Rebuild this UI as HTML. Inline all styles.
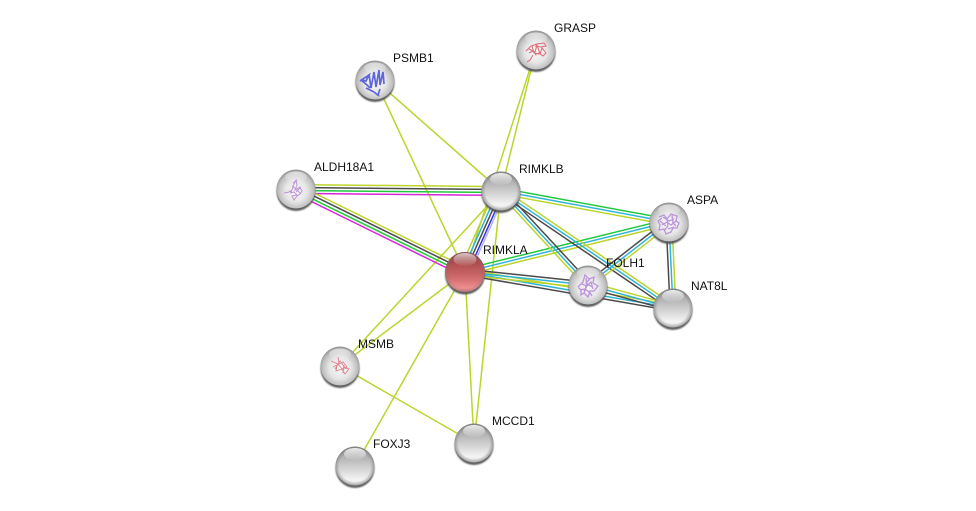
<!DOCTYPE html>
<html>
<head>
<meta charset="utf-8">
<style>
html,body{margin:0;padding:0;background:#fff;width:976px;height:511px;overflow:hidden}
svg{display:block}
text{font-family:"Liberation Sans",sans-serif;font-size:12px;fill:#111}
.y{stroke:#bcd42c}.c{stroke:#2fb4d8}.d{stroke:#4a4a4a}.g{stroke:#22c83c}.m{stroke:#d824d8}.b{stroke:#3232e0}.l{stroke:#b4b4f0}
line{stroke-width:1.5}
</style>
</head>
<body>
<svg width="976" height="511" viewBox="0 0 976 511" xmlns="http://www.w3.org/2000/svg">
<defs>
<linearGradient id="blank" x1="0" y1="0" x2="0" y2="1">
<stop offset="0" stop-color="#8c8c8c"/>
<stop offset=".25" stop-color="#b0b0b0"/>
<stop offset=".55" stop-color="#d2d2d2"/>
<stop offset=".85" stop-color="#f4f4f4"/>
<stop offset="1" stop-color="#e4e4e4"/>
</linearGradient>
<radialGradient id="img" cx=".5" cy=".55" r=".56">
<stop offset="0" stop-color="#f8f8f8"/>
<stop offset=".5" stop-color="#e6e6e6"/>
<stop offset=".8" stop-color="#c0c0c0"/>
<stop offset="1" stop-color="#8a8a8a"/>
</radialGradient>
<radialGradient id="rim" cx=".5" cy=".5" r=".5">
<stop offset=".8" stop-color="#777" stop-opacity="0"/>
<stop offset="1" stop-color="#777" stop-opacity=".6"/>
</radialGradient>
<linearGradient id="red" x1="0" y1="0" x2="0" y2="1">
<stop offset="0" stop-color="#8a3a3c"/>
<stop offset=".3" stop-color="#b04e50"/>
<stop offset=".65" stop-color="#d06c6e"/>
<stop offset=".9" stop-color="#f08e90"/>
<stop offset="1" stop-color="#d87a7c"/>
</linearGradient>
<linearGradient id="hi" x1="0" y1="0" x2="0" y2="1">
<stop offset="0" stop-color="#fff" stop-opacity=".85"/>
<stop offset="1" stop-color="#fff" stop-opacity=".05"/>
</linearGradient>
<filter id="blur" x="-30%" y="-30%" width="160%" height="160%"><feGaussianBlur stdDeviation=".9"/></filter>
<filter id="soft" x="-20%" y="-20%" width="140%" height="140%"><feGaussianBlur stdDeviation=".35"/></filter>
<g id="ball">
<circle cx="0" cy="2.5" r="19.5" fill="#4e4e4e" opacity=".9" filter="url(#blur)"/>
<circle r="19.5" fill="url(#blank)"/>
<circle r="19.5" fill="url(#rim)"/>
<ellipse cx="0" cy="-12" rx="11" ry="6" fill="url(#hi)"/>
</g>
<g id="iball">
<circle cx="0" cy="2.5" r="19.5" fill="#4e4e4e" opacity=".9" filter="url(#blur)"/>
<circle r="19.5" fill="url(#img)"/>
<ellipse cx="0" cy="-12" rx="11" ry="5.5" fill="url(#hi)" opacity=".65"/>
</g>
<g id="rball">
<circle cx="0" cy="2.5" r="20" fill="#4e4e4e" opacity=".9" filter="url(#blur)"/>
<circle r="20" fill="url(#red)"/>
<circle r="20" fill="url(#rim)" opacity=".6"/>
<ellipse cx="0" cy="-12.5" rx="11.5" ry="6.5" fill="url(#hi)" opacity=".8"/>
</g>
</defs>

<rect width="976" height="511" fill="#fff"/>

<!-- single-evidence edges -->
<line class="y" x1="536" y1="50" x2="501" y2="191"/>
<line class="y" x1="536" y1="50" x2="465" y2="272"/>
<line class="y" x1="375" y1="80" x2="501" y2="191"/>
<line class="y" x1="375" y1="80" x2="465" y2="272"/>
<line class="y" x1="501" y1="191" x2="340" y2="366"/>
<line class="y" x1="465" y1="272" x2="340" y2="366"/>
<line class="y" x1="465" y1="272" x2="355" y2="466"/>
<line class="y" x1="465" y1="272" x2="474" y2="443"/>
<line class="y" x1="501" y1="191" x2="474" y2="443"/>
<line class="y" x1="340" y1="366" x2="474" y2="443"/>

<!-- ALDH18A1 - RIMKLB -->
<line class="y" x1="296" y1="184.6" x2="501" y2="186.6"/>
<line class="d" x1="296" y1="187.5" x2="501" y2="189.5"/>
<line class="g" x1="296" y1="190.5" x2="501" y2="192.5"/>
<line class="m" x1="296" y1="193.4" x2="501" y2="195.4"/>
<!-- ALDH18A1 - RIMKLA -->
<line class="y" x1="297.9" y1="185" x2="466.9" y2="268"/>
<line class="d" x1="296.7" y1="187.6" x2="465.7" y2="270.6"/>
<line class="g" x1="295.3" y1="190.4" x2="464.3" y2="273.4"/>
<line class="m" x1="294.1" y1="193" x2="463.1" y2="276"/>
<!-- RIMKLB - RIMKLA -->
<line class="y" x1="495.7" y1="188.6" x2="459.7" y2="269.6"/>
<line class="c" x1="498.4" y1="189.8" x2="462.4" y2="270.8"/>
<line class="d" x1="501" y1="191" x2="465" y2="272"/>
<line class="b" x1="503.6" y1="192.2" x2="467.6" y2="273.2"/>
<line class="l" x1="505.5" y1="193" x2="469.5" y2="274"/>
<!-- RIMKLB - ASPA -->
<line class="g" x1="501.5" y1="188.15" x2="669.5" y2="219.15"/>
<line class="c" x1="501" y1="191" x2="669" y2="222"/>
<line class="y" x1="500.5" y1="193.85" x2="668.5" y2="224.85"/>
<!-- RIMKLA - ASPA -->
<line class="g" x1="464.3" y1="269.2" x2="668.3" y2="219.2"/>
<line class="c" x1="465" y1="272" x2="669" y2="222"/>
<line class="y" x1="465.7" y1="274.8" x2="669.7" y2="224.8"/>
<!-- RIMKLB - NAT8L -->
<line class="y" x1="502.6" y1="188.6" x2="674.6" y2="305.6"/>
<line class="c" x1="501" y1="191" x2="673" y2="308"/>
<line class="d" x1="499.4" y1="193.4" x2="671.4" y2="310.4"/>
<!-- RIMKLB - FOLH1 -->
<line class="d" x1="503.1" y1="189" x2="590.1" y2="283"/>
<line class="c" x1="501" y1="191" x2="588" y2="285"/>
<line class="y" x1="498.9" y1="193" x2="585.9" y2="287"/>
<!-- RIMKLA - NAT8L -->
<line class="y" x1="465.5" y1="269.15" x2="673.5" y2="305.15"/>
<line class="c" x1="465" y1="272" x2="673" y2="308"/>
<line class="d" x1="464.5" y1="274.85" x2="672.5" y2="310.85"/>
<!-- RIMKLA - FOLH1 -->
<line class="d" x1="465.3" y1="269.1" x2="588.3" y2="282.1"/>
<line class="c" x1="465" y1="272" x2="588" y2="285"/>
<line class="y" x1="464.7" y1="274.9" x2="587.7" y2="287.9"/>
<!-- FOLH1 - NAT8L -->
<line class="y" x1="588.75" y1="282.2" x2="673.75" y2="305.2"/>
<line class="c" x1="588" y1="285" x2="673" y2="308"/>
<line class="d" x1="587.25" y1="287.8" x2="672.25" y2="310.8"/>
<!-- ASPA - FOLH1 -->
<line class="d" x1="667.2" y1="219.7" x2="586.2" y2="282.7"/>
<line class="c" x1="669" y1="222" x2="588" y2="285"/>
<line class="y" x1="670.8" y1="224.3" x2="589.8" y2="287.3"/>
<!-- ASPA - NAT8L -->
<line class="d" x1="666.1" y1="222" x2="670.1" y2="308"/>
<line class="c" x1="669" y1="222" x2="673" y2="308"/>
<line class="y" x1="671.9" y1="222" x2="675.9" y2="308"/>

<!-- nodes -->
<use href="#iball" x="536" y="50"/>
<g fill="none" stroke="#dc6a74" stroke-width="1" filter="url(#soft)">
<path d="M526 51l5-5 6-2 7-1 2 3-5 1-6-1M529 49l6 3 2-7 3 9 2-6 4 5-3 3-4-3-3 2-3-4-4 2M532 46l2 7 5 1M533 55l-3 5-3 2"/>
</g>
<use href="#iball" x="375" y="80"/>
<g fill="none" stroke="#5f66d8" stroke-width="1.7" filter="url(#soft)">
<path d="M360 81l9-6-3 6-5-1 6 5 3 3M369 74l2 14 3-16 2 15 3-17 1 15 3-13 1 12M366 88l8 4M374 92l5 4M380 89l-2 6"/>
</g>
<use href="#iball" x="296" y="189"/>
<g fill="none" stroke="#bd96d6" stroke-width="1" filter="url(#soft)">
<path d="M284 193l5-1 3-2 2-6 2-4 1 5-2 5 5-3 2 4-2 3-3 2-3 4-2-4 5-1-3-3-4 1M292 186l4 3 4 4M297 180l-4 3M289 191l3 1M296 192l4-4"/>
</g>
<use href="#ball" x="501" y="191"/>
<use href="#iball" x="669" y="222"/>
<g fill="none" stroke="#bb94da" stroke-width="1.3" filter="url(#soft)">
<path d="M659 217l5-2 3 4 4-5 6 2-1 5 3 2-2 5-4 0-2 4-5 2-2-5-5 1 1-5-2-4 4-3M662 225l5-3 4 3 5-4M664 231l4-5-1-6M672 215l1 8 3 3M660 221l6 5M668 229l6-2M663 217l6 4 5-2"/>
</g>
<use href="#iball" x="588" y="285"/>
<g fill="none" stroke="#bb94da" stroke-width="1.3" filter="url(#soft)">
<path d="M578 287l5-5 2-7 4 4 5-2-1 6 5 3-4 5-4 0-2 6-4-4-3 2 0-5-3-3M582 284l5 2 4-4 2 7M586 278l1 8-3 5M589 291l3 5M580 290l5-1 4 3M590 279l-4 4 6 4M584 294l2-8"/>
</g>
<use href="#ball" x="673" y="308"/>
<use href="#iball" x="340" y="366"/>
<g fill="none" stroke="#e08088" stroke-width=".9" filter="url(#soft)">
<path d="M331 361l7 3 4 5 5-2-4-5-6 3-1 6 6-2 3 5 4-5-6-2M338 357l1 7-6 3M344 365l-1 8M335 369l5-8 6 8"/>
</g>
<use href="#ball" x="474" y="443"/>
<use href="#ball" x="355" y="466"/>
<use href="#rball" x="465" y="272"/>

<!-- labels -->
<text x="393" y="62">PSMB1</text>
<text x="554" y="32">GRASP</text>
<text x="314" y="171">ALDH18A1</text>
<text x="519" y="173">RIMKLB</text>
<text x="483" y="254">RIMKLA</text>
<text x="687" y="204">ASPA</text>
<text x="606" y="267">FOLH1</text>
<text x="691" y="290">NAT8L</text>
<text x="358" y="348">MSMB</text>
<text x="492" y="425">MCCD1</text>
<text x="373" y="448">FOXJ3</text>
</svg>
</body>
</html>
